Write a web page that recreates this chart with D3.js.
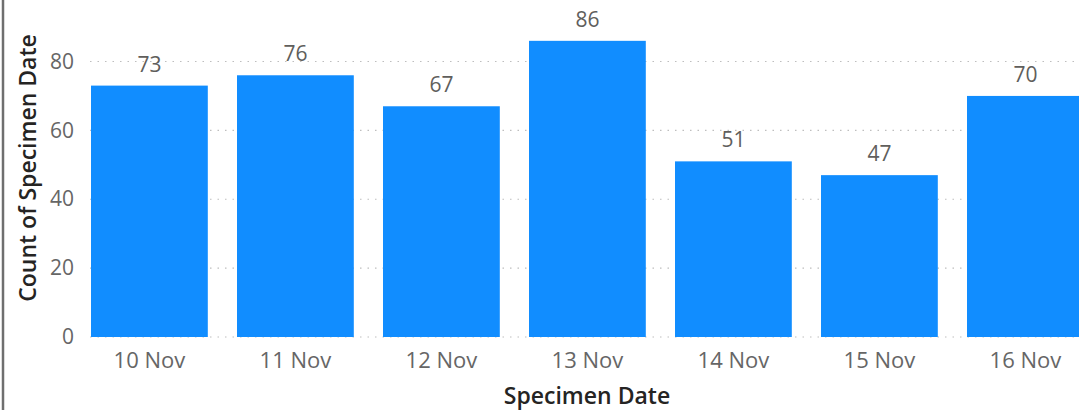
<!DOCTYPE html>
<html>
<head>
<meta charset="utf-8">
<script src="https://cdn.jsdelivr.net/npm/d3@7"></script>
<style>
  body { margin: 0; background: #fff; }
  svg { display: block; }
  text { font-family: "Open Sans", "Noto Sans", sans-serif; }
</style>
</head>
<body>
<svg id="chart"></svg>
<script>
// chart data
const dates = ["10 Nov", "11 Nov", "12 Nov", "13 Nov", "14 Nov", "15 Nov", "16 Nov"];
const counts = [73, 76, 67, 86, 51, 47, 70];
const yTicks = [0, 20, 40, 60, 80];

const width = 1079, height = 410;
const font = '"Open Sans", "Noto Sans", sans-serif';

const svg = d3.select("#chart")
    .attr("width", width)
    .attr("height", height);

const x = d3.scaleBand()
    .domain(dates)
    .range([76.4, 76.4 + 146 * 7])
    .paddingInner(0.2)
    .paddingOuter(0.1);

const y = d3.scaleLinear()
    .domain([0, 80])
    .range([337, 61.5]);

// left frame edge
svg.append("line")
    .attr("x1", 3).attr("x2", 3)
    .attr("y1", 0).attr("y2", height)
    .attr("stroke", "#6f6f6f")
    .attr("stroke-width", 2.5);

// dotted gridlines
svg.append("g")
    .selectAll("line")
    .data(yTicks)
    .enter().append("line")
    .attr("x1", 90).attr("x2", width)
    .attr("y1", d => y(d)).attr("y2", d => y(d))
    .attr("stroke", "#bebebe")
    .attr("stroke-width", 1.2)
    .attr("stroke-dasharray", "1.5,6");

// y axis labels
const yAxis = svg.append("g")
    .attr("transform", "translate(74,0)")
    .call(d3.axisLeft(y).tickValues(yTicks).tickSize(0).tickPadding(0));
yAxis.attr("font-family", font).attr("font-size", null);
yAxis.select(".domain").remove();
yAxis.selectAll("text")
    .attr("fill", "#666666")
    .style("font-size", "21px");

// bars
svg.append("g")
    .selectAll("rect")
    .data(dates)
    .enter().append("rect")
    .attr("x", d => x(d))
    .attr("y", (d, i) => y(counts[i]))
    .attr("width", x.bandwidth())
    .attr("height", (d, i) => y(0) - y(counts[i]))
    .attr("fill", "#118dff");

// data labels
svg.append("g")
    .selectAll("text")
    .data(dates)
    .enter().append("text")
    .attr("x", d => x(d) + x.bandwidth() / 2)
    .attr("y", (d, i) => y(counts[i]) - 14)
    .attr("text-anchor", "middle")
    .attr("fill", "#605e5c")
    .style("font-size", "21px")
    .text((d, i) => counts[i]);

// x axis labels
const xAxis = svg.append("g")
    .attr("transform", "translate(0,352)")
    .call(d3.axisBottom(x).tickSize(0).tickPadding(0));
xAxis.attr("font-family", font).attr("font-size", null);
xAxis.select(".domain").remove();
xAxis.selectAll("text")
    .attr("fill", "#666666")
    .style("font-size", "22px");

// axis titles
svg.append("text")
    .attr("x", 587)
    .attr("y", 404)
    .attr("text-anchor", "middle")
    .attr("fill", "#252423")
    .style("font-size", "23px")
    .style("font-weight", 600)
    .text("Specimen Date");

svg.append("text")
    .attr("transform", "translate(36,168) rotate(-90)")
    .attr("text-anchor", "middle")
    .attr("fill", "#252423")
    .style("font-size", "23px")
    .style("font-weight", 600)
    .text("Count of Specimen Date");
</script>
</body>
</html>
